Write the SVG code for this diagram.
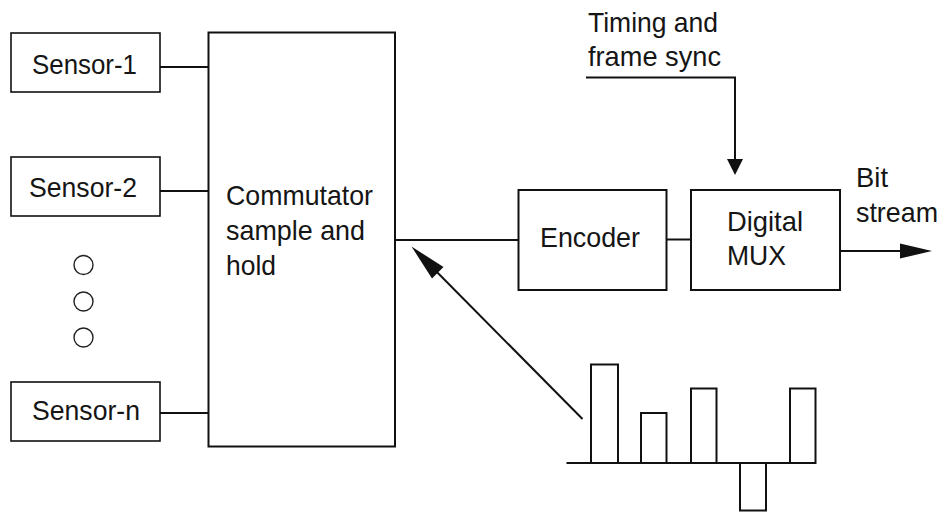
<svg xmlns="http://www.w3.org/2000/svg" width="943" height="513" viewBox="0 0 943 513">
<defs>
<style>
.box{fill:#fff;stroke:#111;stroke-width:2}
.thin{fill:#fff;stroke:#111;stroke-width:1.6}
.ln{fill:none;stroke:#111;stroke-width:2}
.dot{fill:#fff;stroke:#222;stroke-width:1.4}
text{font-family:"Liberation Sans",Arial,sans-serif;font-size:28.5px;fill:#151515}
</style>
</defs>
<rect width="943" height="513" fill="#fff"/>
<g id="connectors">
<line class="ln" x1="160" y1="67" x2="208" y2="67"/>
<line class="ln" x1="160" y1="191" x2="208" y2="191"/>
<line class="ln" x1="160" y1="413" x2="208" y2="413"/>
<line class="ln" x1="395" y1="240" x2="518" y2="240"/>
<line class="ln" x1="666" y1="239.5" x2="691" y2="239.5"/>
<polyline class="ln" points="586,77.5 735,77.5 735,160"/>
<polygon points="727,159 743,159 735,175" fill="#111"/>
<line class="ln" x1="840" y1="251" x2="902" y2="251"/>
<polygon points="900,243.5 932,251 900,258.5" fill="#111"/>
<line class="ln" x1="582.5" y1="419" x2="428" y2="263"/>
<polygon points="411.5,246.5 443.5,267 432,278.5" fill="#111"/>
</g>
<g id="sensor1">
<rect class="thin" x="11" y="33" width="149" height="59"/>
<text x="32" y="74" textLength="105" lengthAdjust="spacingAndGlyphs">Sensor-1</text>
</g>
<g id="sensor2">
<rect class="thin" x="11" y="157" width="149" height="59"/>
<text x="29" y="197" textLength="108" lengthAdjust="spacingAndGlyphs">Sensor-2</text>
</g>
<g id="dots">
<circle class="dot" cx="83.5" cy="265" r="9.5"/>
<circle class="dot" cx="83.5" cy="301.5" r="9.5"/>
<circle class="dot" cx="83.5" cy="337.5" r="9.5"/>
</g>
<g id="sensorn">
<rect class="thin" x="11" y="382" width="149" height="59"/>
<text x="32" y="420" textLength="108" lengthAdjust="spacingAndGlyphs">Sensor-n</text>
</g>
<g id="commutator">
<rect class="box" x="208.5" y="32.5" width="186.5" height="414" stroke-width="2.3"/>
<text x="226" y="205" textLength="147" lengthAdjust="spacingAndGlyphs">Commutator</text>
<text x="226" y="240" textLength="139" lengthAdjust="spacingAndGlyphs">sample and</text>
<text x="226" y="275" textLength="50" lengthAdjust="spacingAndGlyphs">hold</text>
</g>
<g id="encoder">
<rect class="box" x="518.5" y="190" width="148" height="100"/>
<text x="540" y="247" textLength="100" lengthAdjust="spacingAndGlyphs">Encoder</text>
</g>
<g id="mux">
<rect class="box" x="691" y="190" width="149" height="100"/>
<text x="727" y="231" textLength="76" lengthAdjust="spacingAndGlyphs">Digital</text>
<text x="727" y="265" textLength="59" lengthAdjust="spacingAndGlyphs">MUX</text>
</g>
<g id="timing">
<text x="588" y="32" textLength="130" lengthAdjust="spacingAndGlyphs">Timing and</text>
<text x="588" y="66" textLength="133" lengthAdjust="spacingAndGlyphs">frame sync</text>
</g>
<g id="bitstream">
<text x="856" y="187" textLength="32" lengthAdjust="spacingAndGlyphs">Bit</text>
<text x="856" y="222" textLength="82" lengthAdjust="spacingAndGlyphs">stream</text>
</g>
<g id="samples">
<line class="ln" x1="566.5" y1="463" x2="816" y2="463"/>
<rect class="box" x="591" y="364.5" width="27" height="98.5"/>
<rect class="box" x="641" y="413" width="25.5" height="50"/>
<rect class="box" x="691" y="388.5" width="25.5" height="74.5"/>
<rect class="box" x="740" y="463" width="26" height="47.5"/>
<rect class="box" x="790" y="388.5" width="25.5" height="74.5"/>
</g>
</svg>
